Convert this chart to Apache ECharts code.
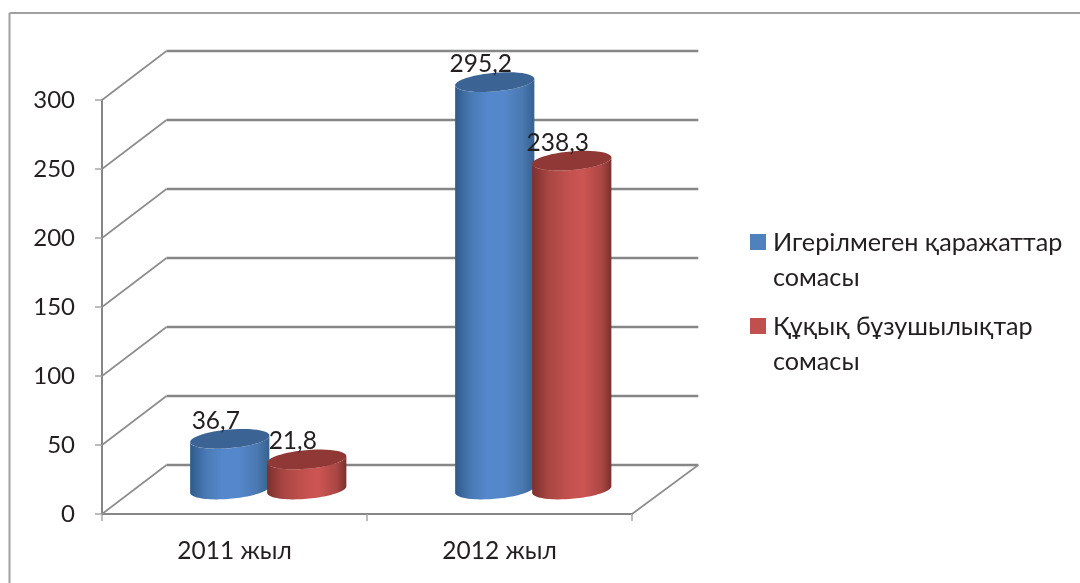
<!DOCTYPE html>
<html><head><meta charset="utf-8">
<style>html,body{margin:0;padding:0;background:#fff}#c{width:1080px;height:583px}</style>
<script src="https://cdn.jsdelivr.net/npm/echarts@6/dist/echarts.min.js"></script>
</head><body><div id="c"></div>
<script>
var categories = ['2011 жыл', '2012 жыл'];
var seriesNames = ['Игерілмеген қаражаттар\nсомасы', 'Құқық бұзушылықтар\nсомасы'];
var fundsValues = [36.7, 295.2];
var violationValues = [21.8, 238.3];
var yTicks = [0, 50, 100, 150, 200, 250, 300];
var FONT = 'Lato, "Open Sans", "Noto Sans", sans-serif';
var TEXT = '#231f20';
var DEPTH_X = 64.5, DEPTH_Y = -49, BACK_EXTRA = 1.8, CYL_SHIFT = 1.5;
var TILT = -5 * Math.PI / 180;

function ellipsePts(cx, cy, a, b, from, to) {
  var pts = [], n = 48;
  for (var i = 0; i <= n; i++) {
    var t = from + (to - from) * i / n;
    var ca = a * Math.cos(t), sb = b * Math.sin(t);
    pts.push([cx + ca * Math.cos(TILT) - sb * Math.sin(TILT),
              cy + ca * Math.sin(TILT) + sb * Math.cos(TILT)]);
  }
  return pts;
}
function cylinder(stops, top, dir, lx) {
  return function (params, api) {
    var idx = api.value(0), val = api.value(1);
    var band = api.size([1, 0])[0];
    var w = band * 0.15;
    var base = api.coord([idx, 0]), head = api.coord([idx, val]);
    var cx = base[0] + dir * band * 0.1453 + DEPTH_X / 2 + CYL_SHIFT;
    var by = base[1] + DEPTH_Y / 2, ty = head[1] + DEPTH_Y / 2;
    var a = w, b = 9.3;
    var t0 = Math.atan2(-b * Math.sin(TILT), a * Math.cos(TILT));
    var lower = ellipsePts(cx, by, a, b, t0, t0 + Math.PI);
    var upper = ellipsePts(cx, ty, a, b, t0 + Math.PI, t0);
    var body = lower.concat(upper);
    return {
      type: 'group',
      children: [
        { type: 'polygon', shape: { points: body },
          style: { fill: new echarts.graphic.LinearGradient(0, 0, 1, 0, stops) } },
        { type: 'polygon', shape: { points: ellipsePts(cx, ty, a, b, 0, Math.PI * 2) },
          style: { fill: top } },
        { type: 'text', x: cx + lx, y: ty - 18,
          style: { text: String(val).replace('.', ','), font: '24.5px ' + FONT, fill: TEXT,
                   align: 'center', verticalAlign: 'middle' } }
      ]
    };
  };
}

var option = {
  animation: false,
  backgroundColor: '#fff',
  graphic: [
    { type: 'line', shape: { x1: 9.5, y1: 13, x2: 1080, y2: 13 }, style: { stroke: '#a0a0a0', lineWidth: 2 } },
    { type: 'line', shape: { x1: 9.5, y1: 13, x2: 9.5, y2: 583 }, style: { stroke: '#a0a0a0', lineWidth: 2 } }
  ],
  grid: { left: 102, top: 100, width: 530, height: 414 },
  legend: {
    left: 750, top: 225, orient: 'vertical', itemWidth: 18, itemHeight: 52, itemGap: 14, padding: 0,
    icon: 'path://M0 0H16V16H0Z M0 52L18 52', selectedMode: false, data: seriesNames,
    textStyle: { fontFamily: FONT, fontSize: 25.2, color: TEXT, lineHeight: 35 }
  },
  xAxis: {
    type: 'category', data: categories,
    axisLine: { lineStyle: { color: '#868686', width: 2 } },
    axisTick: { show: true, length: 7, lineStyle: { color: '#a6a6a6', width: 1.5 } },
    axisLabel: { fontFamily: FONT, fontSize: 24.5, color: TEXT, margin: 25 }, splitLine: { show: false }
  },
  yAxis: {
    type: 'value', min: 0, max: 300, interval: 50,
    axisLine: { show: true, lineStyle: { color: '#868686', width: 2 } },
    axisTick: { show: true, length: 7, lineStyle: { color: '#a6a6a6', width: 1.5 } },
    axisLabel: { fontFamily: FONT, fontSize: 24, color: TEXT, margin: 27, padding: [3, 0, 0, 0] }, splitLine: { show: false }
  },
  series: [
    { type: 'custom', name: 'walls', silent: true, data: yTicks.map(function (t) { return [0, t]; }),
      renderItem: function (params, api) {
        var cs = params.coordSys, y = api.coord([0, api.value(1)])[1];
        var left = cs.x, right = cs.x + cs.width;
        var children = [
          { type: 'polyline', shape: { points: [[left, y], [left + DEPTH_X, y + DEPTH_Y]] },
            style: { fill: 'none', stroke: '#8c8c8c', lineWidth: 1.6 } },
          { type: 'polyline', shape: { points: [[left + DEPTH_X, y + DEPTH_Y], [right + DEPTH_X + BACK_EXTRA, y + DEPTH_Y]] },
            style: { fill: 'none', stroke: '#868686', lineWidth: 2.4 } }
        ];
        if (api.value(1) === 0) children.push(
          { type: 'polyline', shape: { points: [[right, y], [right + DEPTH_X + BACK_EXTRA, y + DEPTH_Y]] },
            style: { fill: 'none', stroke: '#8c8c8c', lineWidth: 1.6 } });
        return { type: 'group', children: children };
      }, z: 1 },
    { type: 'custom', name: seriesNames[0], itemStyle: { color: '#4f81bd' }, z: 2,
      data: categories.map(function (c, i) { return [i, fundsValues[i]]; }),
      renderItem: cylinder([
        { offset: 0, color: '#2f5a8a' }, { offset: 0.2, color: '#4a7ab5' }, { offset: 0.4, color: '#5487cb' },
        { offset: 0.62, color: '#5487cb' }, { offset: 0.85, color: '#4a78b0' }, { offset: 1, color: '#36618f' }
      ], '#3b6494', -1, -14) },
    { type: 'custom', name: seriesNames[1], itemStyle: { color: '#c0504d' }, z: 3,
      data: categories.map(function (c, i) { return [i, violationValues[i]]; }),
      renderItem: cylinder([
        { offset: 0, color: '#7c2f2d' }, { offset: 0.2, color: '#a84643' }, { offset: 0.5, color: '#c6524f' },
        { offset: 0.65, color: '#cc5552' }, { offset: 0.88, color: '#aa4644' }, { offset: 1, color: '#7a302e' }
      ], '#8f3836', 1, -14) }
  ]
};
var chart = echarts.init(document.getElementById('c'), null, { renderer: 'canvas' });
chart.setOption(option);
</script></body></html>
